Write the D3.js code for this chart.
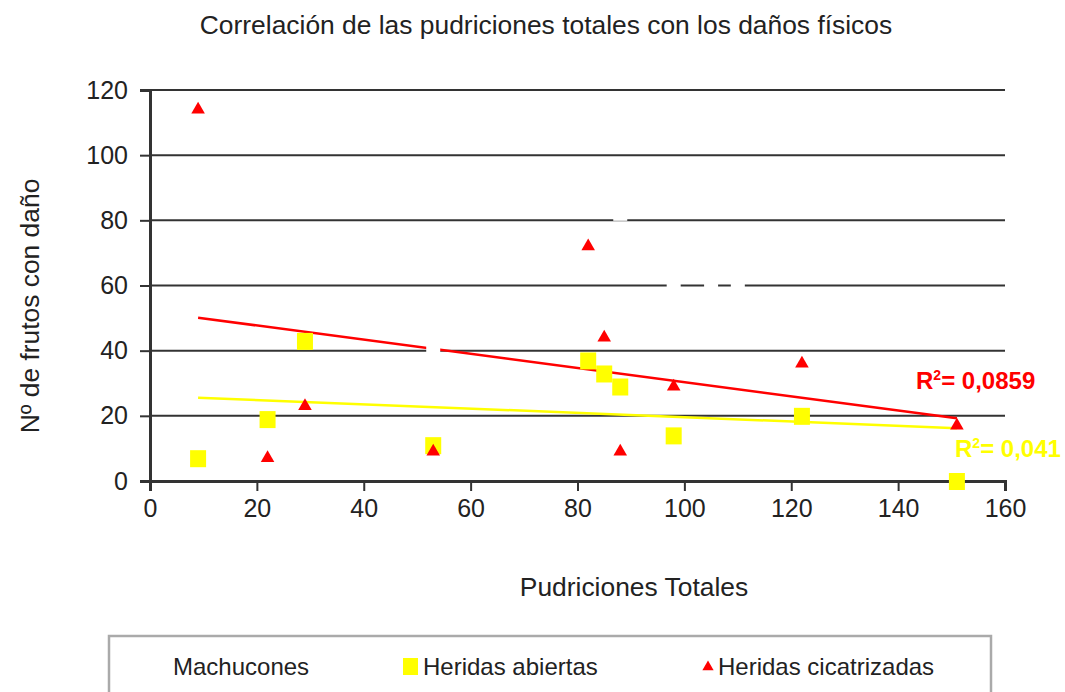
<!DOCTYPE html>
<html>
<head>
<meta charset="utf-8">
<script src="https://cdn.jsdelivr.net/npm/d3@7"></script>
<style>
  body { margin: 0; background: #fff; }
  svg text { font-family: "Liberation Sans", Arial, sans-serif; fill: #222; }
</style>
</head>
<body>
<div id="viz"></div>
<script>
// values
const pudriciones = [9, 22, 29, 53, 82, 85, 88, 98, 122, 151];
const heridasAbiertas = [7, 19, 43, 11, 37, 33, 29, 14, 20, 0];
const heridasCicatrizadas = [114, 7, 23, 9, 72, 44, 9, 29, 36, 17];
// machucones are drawn in white, they only show as gaps in the grid
const machuconesX = [53, 88, 98, 105, 110];
const machuconesY = [40, 82, 60, 60, 60];

const xTicks = [0, 20, 40, 60, 80, 100, 120, 140, 160];
const yTicks = [0, 20, 40, 60, 80, 100, 120];
const r2Labels = { abiertas: "0,041", cicatrizadas: "0,0859" };

const width = 1065, height = 692;
const margin = { left: 150, right: 60, top: 90, bottom: 211 };

const svg = d3.select("#viz").append("svg")
  .attr("width", width)
  .attr("height", height);

const x = d3.scaleLinear().domain([0, 160]).range([margin.left, width - margin.right]);
const y = d3.scaleLinear().domain([0, 120]).range([height - margin.bottom, margin.top]);

// title
svg.append("text")
  .attr("x", 546).attr("y", 34)
  .attr("text-anchor", "middle")
  .style("font-size", "26.4px")
  .text("Correlación de las pudriciones totales con los daños físicos");

// grid
svg.append("g")
  .selectAll("line")
  .data(yTicks.filter(d => d > 0))
  .join("line")
  .attr("x1", x(0)).attr("x2", x(160))
  .attr("y1", d => y(d)).attr("y2", d => y(d))
  .attr("stroke", "#333").attr("stroke-width", 2);

// axes
const yAxis = svg.append("g")
  .attr("transform", `translate(${x(0)},0)`)
  .call(d3.axisLeft(y).tickValues(yTicks).tickSize(10).tickPadding(12));
yAxis.select(".domain").attr("stroke", "#333").attr("stroke-width", 3);
yAxis.selectAll(".tick line").attr("stroke", "#333").attr("stroke-width", 2);
yAxis.selectAll(".tick text").style("font-size", "25px").attr("fill", "#222")
  .style("font-family", "'Liberation Sans', Arial, sans-serif");

const xAxis = svg.append("g")
  .attr("transform", `translate(0,${y(0)})`)
  .call(d3.axisBottom(x).tickValues(xTicks).tickSize(10).tickPadding(8));
xAxis.select(".domain").attr("stroke", "#333").attr("stroke-width", 3);
xAxis.selectAll(".tick line").attr("stroke", "#333").attr("stroke-width", 2);
xAxis.selectAll(".tick text").style("font-size", "25px").attr("fill", "#222")
  .style("font-family", "'Liberation Sans', Arial, sans-serif");

// axis titles
svg.append("text")
  .attr("x", 634).attr("y", 596)
  .attr("text-anchor", "middle")
  .style("font-size", "26.4px")
  .text("Pudriciones Totales");

svg.append("text")
  .attr("transform", "translate(39,306) rotate(-90)")
  .attr("text-anchor", "middle")
  .style("font-size", "26.4px")
  .text("Nº de frutos con daño");

// least squares fit, drawn between the first and last x
const fit = (xs, ys) => {
  const mx = d3.mean(xs), my = d3.mean(ys);
  const sxy = d3.sum(xs, (v, i) => (v - mx) * (ys[i] - my));
  const sxx = d3.sum(xs, v => (v - mx) * (v - mx));
  const b = sxy / sxx;
  return v => my + b * (v - mx);
};

const x0 = d3.min(pudriciones), x1 = d3.max(pudriciones);
const fitA = fit(pudriciones, heridasAbiertas);
const fitC = fit(pudriciones, heridasCicatrizadas);

svg.append("line")
  .attr("x1", x(x0)).attr("y1", y(fitA(x0)))
  .attr("x2", x(x1)).attr("y2", y(fitA(x1)))
  .attr("stroke", "#ffff00").attr("stroke-width", 2.5);

svg.append("line")
  .attr("x1", x(x0)).attr("y1", y(fitC(x0)))
  .attr("x2", x(x1)).attr("y2", y(fitC(x1)))
  .attr("stroke", "#ff0000").attr("stroke-width", 2.5);

// machucones (white)
svg.append("g")
  .selectAll("rect")
  .data(machuconesX.map((v, i) => ({ x: v, y: machuconesY[i] })))
  .join("rect")
  .attr("x", d => x(d.x) - 7).attr("y", d => y(d.y) - 7)
  .attr("width", 14).attr("height", 14)
  .attr("fill", "#fff");

// heridas abiertas
svg.append("g")
  .selectAll("rect")
  .data(pudriciones.map((v, i) => ({ x: v, y: heridasAbiertas[i] })))
  .join("rect")
  .attr("x", d => x(d.x) - 8).attr("y", d => y(d.y) - 8)
  .attr("width", 16).attr("height", 17)
  .attr("fill", "#ffff00");

// heridas cicatrizadas
const tri = d3.symbol().type(d3.symbolTriangle).size(80);
svg.append("g")
  .selectAll("path")
  .data(pudriciones.map((v, i) => ({ x: v, y: heridasCicatrizadas[i] })))
  .join("path")
  .attr("d", tri)
  .attr("transform", d => `translate(${x(d.x)},${y(d.y)})`)
  .attr("fill", "#ff0000");

// R² labels
const r2 = (lx, ly, color, val) => {
  const t = svg.append("text")
    .attr("x", lx).attr("y", ly)
    .style("font-size", "24px").style("font-weight", "bold")
    .attr("fill", color).style("fill", color);
  t.append("tspan").text("R");
  t.append("tspan").attr("dy", -9).style("font-size", "14px").text("2");
  t.append("tspan").attr("dy", 9).text("= " + val);
};
r2(916, 389, "#ff0000", r2Labels.cicatrizadas);
r2(955, 457, "#ffff00", r2Labels.abiertas);

// legend
const legend = svg.append("g");
legend.append("rect")
  .attr("x", 109).attr("y", 636)
  .attr("width", 882).attr("height", 70)
  .attr("fill", "#fff")
  .attr("stroke", "#aaa").attr("stroke-width", 2.5);

legend.append("text").attr("x", 173).attr("y", 675)
  .style("font-size", "24px").text("Machucones");

legend.append("rect").attr("x", 403).attr("y", 658)
  .attr("width", 15).attr("height", 17).attr("fill", "#ffff00");
legend.append("text").attr("x", 423).attr("y", 675)
  .style("font-size", "24px").text("Heridas abiertas");

legend.append("path")
  .attr("d", d3.symbol().type(d3.symbolTriangle).size(55))
  .attr("transform", "translate(708,667)")
  .attr("fill", "#ff0000");
legend.append("text").attr("x", 718).attr("y", 675)
  .style("font-size", "24px").text("Heridas cicatrizadas");
</script>
</body>
</html>
